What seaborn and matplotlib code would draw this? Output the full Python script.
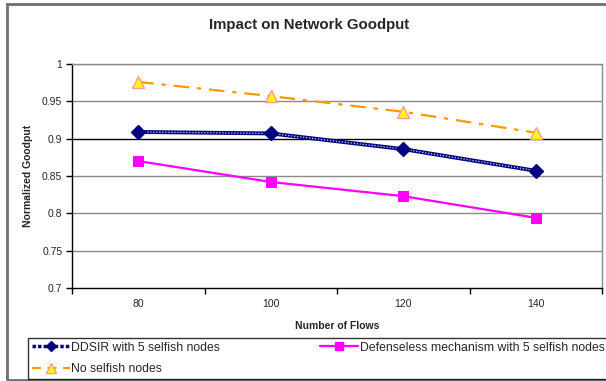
import matplotlib
matplotlib.use("Agg")
import matplotlib.pyplot as plt
from matplotlib.patches import Rectangle
from matplotlib.lines import Line2D
import seaborn as sns
import pandas as pd

flows = [80, 100, 120, 140]
ddsir = [0.909, 0.907, 0.886, 0.857]
defenseless = [0.870, 0.842, 0.823, 0.794]
no_selfish = [0.976, 0.957, 0.936, 0.908]
y_ticks = [0.7, 0.75, 0.8, 0.85, 0.9, 0.95, 1]
y_tick_labels = ["0.7", "0.75", "0.8", "0.85", "0.9", "0.95", "1"]

sns.set_style("white")
plt.rcParams["font.family"] = ["Liberation Sans", "DejaVu Sans"]

W, H = 606, 381
fig = plt.figure(figsize=(W / 100, H / 100), dpi=100)
ax = fig.add_axes([72 / W, 1 - 288 / H, (602 - 72) / W, (288 - 64) / H])

df = pd.DataFrame({"flows": flows, "ddsir": ddsir,
                   "defenseless": defenseless, "none": no_selfish})

# gridlines
for v in y_ticks[1:]:
    ax.axhline(v, color="black" if v == 0.9 else "#8a8a8a", lw=1, zorder=1)

# DDSIR: navy line with a light dotted core
sns.lineplot(data=df, x="flows", y="ddsir", ax=ax, color="#000080", lw=2.8,
             zorder=3, legend=False)
ax.plot(df["flows"], df["ddsir"], color="#d0d0ff", lw=0.9, ls=(0, (1, 1.4)),
        zorder=4)
ax.plot(df["flows"], df["ddsir"], ls="none", marker="D", ms=7.5,
        color="#000080", mec="#000080", zorder=5)

# Defenseless mechanism
sns.lineplot(data=df, x="flows", y="defenseless", ax=ax, color="#FF00FF",
             lw=1.6, marker="s", ms=7.5, mec="#FF00FF", zorder=3, legend=False)

# No selfish nodes
sns.lineplot(data=df, x="flows", y="none", ax=ax, color="#FF9900", lw=1.6,
             dashes=False, zorder=3, legend=False)
ax.lines[-1].set_linestyle((0, (7, 3.5, 2, 3.5)))
ax.plot(df["flows"], df["none"], ls="none", marker="^", ms=8.5,
        color="#FFFF00", mec="#FF9999", mew=1, zorder=5)

ax.set_xlim(70, 150)
ax.set_ylim(0.7, 1.0)
ax.set_yticks(y_ticks)
ax.set_yticklabels(y_tick_labels)
ax.set_xticks([70, 90, 110, 130, 150])
ax.set_xticklabels([])
ax.set_xticks(flows, minor=True)
ax.set_xticklabels([str(f) for f in flows], minor=True)
ax.tick_params(axis="x", which="major", direction="out", length=4,
               width=1, color="black", bottom=True)
ax.tick_params(axis="x", which="minor", length=0, pad=8, labelsize=7.5)
ax.tick_params(axis="y", direction="out", length=4, width=1, color="black",
               left=True, pad=3, labelsize=7.5)

for side in ["left", "bottom"]:
    ax.spines[side].set_color("black")
    ax.spines[side].set_linewidth(1)
for side in ["top", "right"]:
    ax.spines[side].set_color("#8a8a8a")
    ax.spines[side].set_linewidth(1)

ax.set_xlabel("Number of Flows", fontsize=7.5, fontweight="bold")
ax.set_ylabel("Normalized Goodput", fontsize=7.5, fontweight="bold")
ax.xaxis.set_label_coords(0.5, -0.147)
ax.yaxis.set_label_coords(-0.074, 0.5)

fig.text(309 / W, 1 - 25 / H, "Impact on Network Goodput", ha="center",
         va="center", fontsize=10.8, fontweight="bold")

# legend
h_ddsir = Line2D([], [], color="#000080", lw=2.5, marker="D", ms=5,
                 ls=(0, (1, 0.6)))
h_none = Line2D([], [], color="#FF9900", lw=1.6, ls=(0, (4, 3)),
                marker="^", ms=7, mfc="#FFFF00", mec="#FF9999")
h_def = Line2D([], [], color="#FF00FF", lw=1.6, marker="s", ms=6,
               mec="#FF00FF")
leg = fig.legend([h_ddsir, h_none, h_def],
                 ["DDSIR with 5 selfish nodes", "No selfish nodes",
                  "Defenseless mechanism with 5 selfish nodes"],
                 ncol=2, loc="upper left",
                 bbox_to_anchor=(28 / W, 1 - 338 / H),
                 fontsize=8.8, frameon=True, fancybox=False,
                 edgecolor="black", handlelength=3.1, handletextpad=0.15,
                 columnspacing=8.2, labelspacing=0.75, borderpad=0.3,
                 borderaxespad=0)
leg.get_frame().set_linewidth(1)

# chart area frame
fig.patches.append(Rectangle((6.5 / W, 1 - 379.5 / H), 1.2,
                             (379.5 - 4) / H, transform=fig.transFigure,
                             fill=False, edgecolor="#6e6e6e", lw=2))

fig.savefig("out.png", dpi=100)
